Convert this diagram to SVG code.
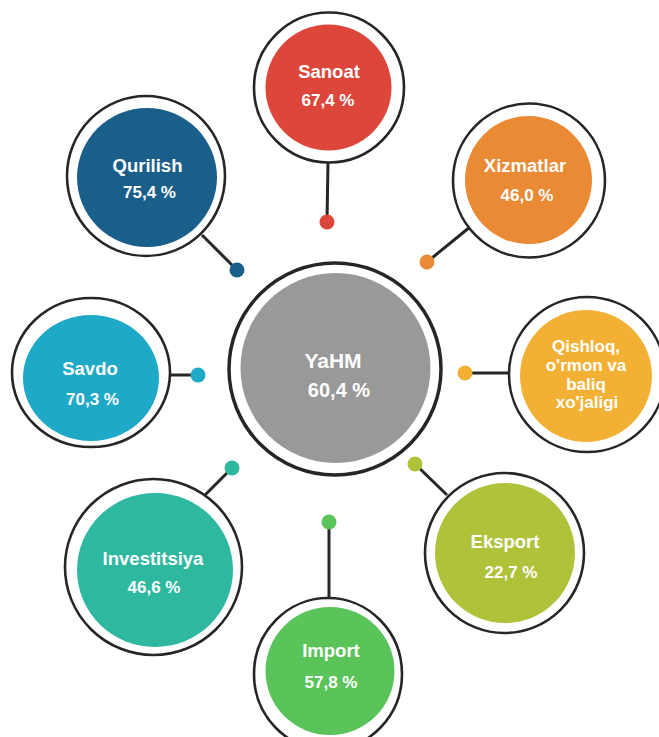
<svg xmlns="http://www.w3.org/2000/svg" width="659" height="737" viewBox="0 0 659 737">
<style>
.ring{fill:#fff;stroke:#262626;stroke-width:2.6}
.lbl{font-family:"Liberation Sans",Arial,sans-serif;font-weight:bold;fill:#fff;text-anchor:middle}
.t{font-size:18.5px}
.p{font-size:17px}
.ln{stroke:#262626;stroke-width:3;fill:none}
</style>
<rect width="659" height="737" fill="#fff"/>
<g id="connectors">
<line class="ln" x1="328" y1="162" x2="327" y2="222"/>
<line class="ln" x1="470" y1="227" x2="427" y2="262"/>
<line class="ln" x1="509" y1="373" x2="465" y2="373"/>
<line class="ln" x1="447" y1="495" x2="415" y2="464"/>
<line class="ln" x1="329" y1="598" x2="329" y2="522"/>
<line class="ln" x1="205" y1="495" x2="232" y2="468"/>
<line class="ln" x1="170" y1="375" x2="198" y2="375"/>
<line class="ln" x1="202" y1="235" x2="237" y2="270"/>
<circle cx="327" cy="222" r="7.5" fill="#dc463b"/>
<circle cx="427" cy="262" r="7.5" fill="#eb8a35"/>
<circle cx="465" cy="373" r="7.5" fill="#f2b134"/>
<circle cx="415" cy="464" r="7.5" fill="#afc23a"/>
<circle cx="329" cy="522" r="7.5" fill="#5ac35a"/>
<circle cx="232" cy="468" r="7.5" fill="#2eb8a0"/>
<circle cx="198" cy="375" r="7.5" fill="#1ea9c6"/>
<circle cx="237" cy="270" r="7.5" fill="#1a5e8a"/>
</g>
<g id="yahm">
<circle class="ring" cx="335" cy="369" r="106" style="stroke-width:3.5"/>
<circle cx="335.5" cy="368" r="95" fill="#999999"/>
<text class="lbl" x="333" y="368" style="font-size:21px">YaHM</text>
<text class="lbl" x="339" y="397" style="font-size:20px">60,4 %</text>
</g>
<g id="sanoat">
<circle class="ring" cx="329" cy="87.5" r="75"/>
<circle cx="328.5" cy="87.5" r="63" fill="#dc463b"/>
<text class="lbl t" x="329" y="78">Sanoat</text>
<text class="lbl p" x="328" y="106">67,4 %</text>
</g>
<g id="xizmatlar">
<ellipse class="ring" cx="529" cy="180.5" rx="76" ry="77"/>
<ellipse cx="528.5" cy="180" rx="63.5" ry="64" fill="#eb8a35"/>
<text class="lbl t" x="525" y="172">Xizmatlar</text>
<text class="lbl p" x="527" y="201">46,0 %</text>
</g>
<g id="qishloq">
<ellipse class="ring" cx="587" cy="374.5" rx="78" ry="77.5"/>
<ellipse cx="586" cy="376" rx="66" ry="66" fill="#f2b134"/>
<text class="lbl" x="586" y="352" style="font-size:17px">Qishloq,</text>
<text class="lbl" x="586" y="371" style="font-size:17px">o'rmon va</text>
<text class="lbl" x="586" y="390" style="font-size:17px">baliq</text>
<text class="lbl" x="587" y="408" style="font-size:17px">xo'jaligi</text>
</g>
<g id="eksport">
<ellipse class="ring" cx="504.5" cy="553" rx="79.5" ry="80"/>
<ellipse cx="505" cy="553" rx="70" ry="70" fill="#afc23a"/>
<text class="lbl t" x="505" y="548">Eksport</text>
<text class="lbl p" x="511" y="578">22,7 %</text>
</g>
<g id="import">
<ellipse class="ring" cx="328" cy="674" rx="74" ry="76"/>
<ellipse cx="330" cy="671" rx="64.5" ry="64" fill="#5ac35a"/>
<text class="lbl t" x="331" y="657">Import</text>
<text class="lbl p" x="331" y="688">57,8 %</text>
</g>
<g id="investitsiya">
<ellipse class="ring" cx="153.5" cy="567" rx="88.5" ry="88"/>
<ellipse cx="155" cy="570" rx="78" ry="77" fill="#2eb8a0"/>
<text class="lbl t" x="153" y="565">Investitsiya</text>
<text class="lbl p" x="154" y="593">46,6 %</text>
</g>
<g id="savdo">
<ellipse class="ring" cx="91" cy="372.5" rx="79" ry="74.5"/>
<ellipse cx="91" cy="378" rx="68" ry="63" fill="#1ea9c6"/>
<text class="lbl t" x="90" y="375">Savdo</text>
<text class="lbl p" x="92.5" y="405">70,3 %</text>
</g>
<g id="qurilish">
<ellipse class="ring" cx="146" cy="176" rx="79" ry="80"/>
<ellipse cx="147" cy="177.5" rx="70" ry="69.5" fill="#1a5e8a"/>
<text class="lbl t" x="147.5" y="172">Qurilish</text>
<text class="lbl p" x="149.5" y="198">75,4 %</text>
</g>
</svg>
